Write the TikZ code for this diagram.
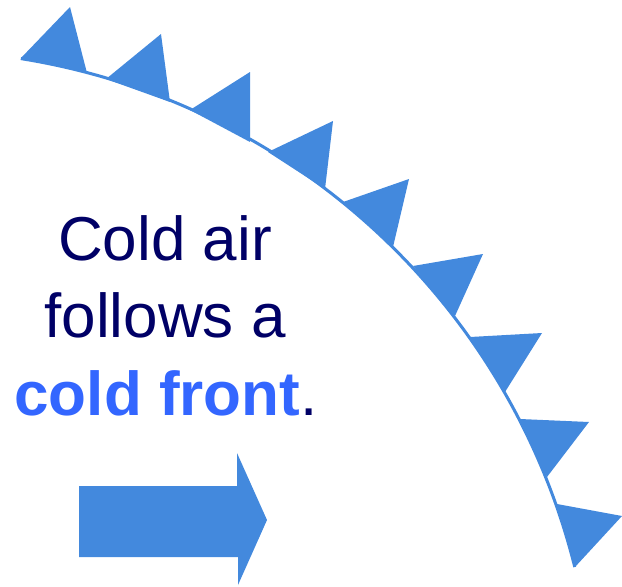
\documentclass[tikz,border=0pt]{standalone}
\usepackage{fontspec}
\setmainfont{Liberation Sans}
\definecolor{frontblue}{RGB}{67,137,221}
\definecolor{navytext}{RGB}{0,0,102}
\definecolor{brightblue}{RGB}{51,102,255}
\tikzset{
  tooth/.style={fill=frontblue, draw=none},
  frontline/.style={draw=frontblue, line width=3pt},
  bigtext/.style={anchor=base, inner sep=0pt, text=navytext, font=\fontsize{62}{77}\selectfont},
}
\begin{document}
\begin{tikzpicture}[x=1pt,y=-1pt]
\useasboundingbox (0,0) rectangle (622,587);
% front line (circular arc)
\coordinate (ctr) at (-87,732);
\draw[frontline] (ctr) ++(-80.9:682) arc[start angle=-80.9, end angle=-14.0, radius=682];
% triangles
\fill[tooth] (21,58) -- (87,73) -- (70,7) -- cycle;
\fill[tooth] (106,79) -- (170,102) -- (161,34) -- cycle;
\fill[tooth] (190,110) -- (250,142) -- (250,72) -- cycle;
\fill[tooth] (268,152) -- (325,189) -- (333,121) -- cycle;
\fill[tooth] (343,202) -- (393,247) -- (409,179) -- cycle;
\fill[tooth] (413,266) -- (455,316) -- (483,254) -- cycle;
\fill[tooth] (470,337) -- (505,392) -- (542,333) -- cycle;
\fill[tooth] (520,419) -- (547,477) -- (589,422) -- cycle;
\fill[tooth] (557,504) -- (575,567) -- (622,516) -- cycle;
% arrow
\fill[tooth] (79,486) -- (237,486) -- (237,453) -- (267,520) -- (238,585) -- (238,557) -- (79,557) -- cycle;
% text
\node[bigtext] (l1) at (165,260) {Cold air};
\node[bigtext] (l2) at (165,337) {follows a};
\node[bigtext] (l3) at (166,415) {\textbf{\color{brightblue}cold front}.};
\end{tikzpicture}
\end{document}
